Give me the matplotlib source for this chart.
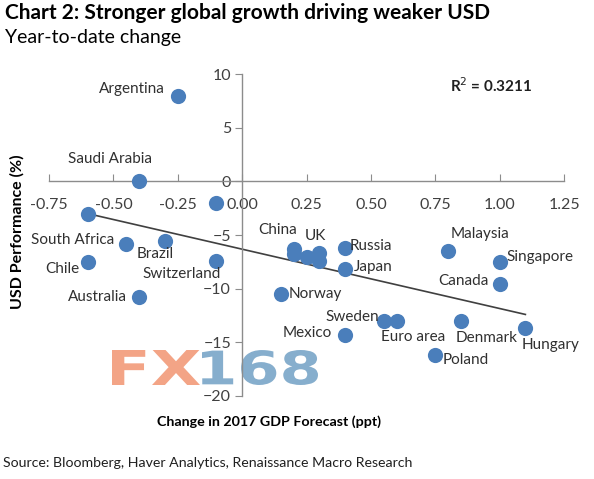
import matplotlib
matplotlib.use("Agg")
import matplotlib.pyplot as plt
from matplotlib.textpath import TextPath
from matplotlib.patches import PathPatch
from matplotlib.font_manager import FontProperties
from matplotlib.transforms import Affine2D

plt.rcParams['font.family'] = ['Lato', 'DejaVu Sans']

# data (GDP forecast change, USD performance)
countries = ["Argentina", "Saudi Arabia", "", "", "South Africa", "Brazil", "Chile",
             "Switzerland", "Australia", "Norway", "China", "", "", "UK", "",
             "Russia", "Japan", "Malaysia", "Singapore", "Canada", "Sweden",
             "Euro area", "Mexico", "Denmark", "Poland", "Hungary"]
gdp_change = [-0.25, -0.40, -0.10, -0.60, -0.45, -0.30, -0.60,
              -0.10, -0.40, 0.15, 0.20, 0.20, 0.25, 0.30, 0.30,
              0.40, 0.40, 0.80, 1.00, 1.00, 0.55,
              0.60, 0.40, 0.85, 0.75, 1.10]
usd_perf = [8.0, 0.0, -2.0, -3.0, -5.8, -5.6, -7.5,
            -7.4, -10.8, -10.5, -6.3, -6.8, -7.0, -6.7, -7.4,
            -6.2, -8.2, -6.5, -7.5, -9.6, -13.0,
            -13.0, -14.3, -13.0, -16.2, -13.7]
trend_x = [-0.60, 1.10]
trend_y = [-3.0, -12.4]
x_ticks = [-0.75, -0.50, -0.25, 0.00, 0.25, 0.50, 0.75, 1.00, 1.25]
y_ticks = [-20, -15, -10, -5, 0, 5, 10]

# label placement: (dx, dy) in pixels, horizontal alignment
label_pos = {
    "Argentina": (-13, 7, 'right'),
    "Saudi Arabia": (-29, 22, 'center'),
    "South Africa": (-12, 4, 'right'),
    "Brazil": (-10, -13, 'center'),
    "Chile": (-8, -7, 'right'),
    "Switzerland": (-35, -13, 'center'),
    "Australia": (-12, 0, 'right'),
    "Norway": (8, 0, 'left'),
    "China": (-16, 19, 'center'),
    "UK": (-4, 17, 'center'),
    "Russia": (4, 2, 'left'),
    "Japan": (9, 2, 'left'),
    "Malaysia": (32, 17, 'center'),
    "Singapore": (7, 5, 'left'),
    "Canada": (-11, 3, 'right'),
    "Mexico": (-13, 2, 'right'),
    "Sweden": (-5, 4, 'right'),
    "Euro area": (16, -16, 'center'),
    "Denmark": (26, -17, 'center'),
    "Hungary": (25, -17, 'center'),
    "Poland": (7, -5, 'left'),
}

W, H = 594, 479
fig = plt.figure(figsize=(W / 100, H / 100), dpi=100)
ax = fig.add_axes([0.0825, 0.1733, 0.867, 0.672])


def watermark(text, left, right, top, bottom, color):
    # stretch a bold text outline into a box given in pixels from the top-left
    path = TextPath((0, 0), text, size=50, prop=FontProperties(family='DejaVu Sans', weight='bold'))
    ext = path.get_extents()
    sx = (right - left) / ext.width
    sy = (bottom - top) / ext.height
    tr = (Affine2D().translate(-ext.x0, -ext.y0).scale(sx, sy)
          .translate(left, H - bottom).scale(1 / 100.0) + fig.dpi_scale_trans)
    fig.add_artist(PathPatch(path, transform=tr, facecolor=color, edgecolor='none', zorder=0))


watermark("FX", 112, 200, 350, 385, '#F3A486')
watermark("168", 202, 318, 350, 385, '#86AECD')

ax.set_xlim(-0.75, 1.25)
ax.set_ylim(-20, 10)
ax.patch.set_alpha(0)

for s in ['top', 'right']:
    ax.spines[s].set_visible(False)
ax.spines['left'].set_position(('data', 0))
ax.spines['bottom'].set_position(('data', 0))
for s in ['left', 'bottom']:
    ax.spines[s].set_color('#8C8C8C')
    ax.spines[s].set_linewidth(1.0)

ax.set_xticks(x_ticks)
ax.set_xticklabels(["%.2f" % v for v in x_ticks])
ax.set_yticks(y_ticks)
ax.tick_params(axis='x', direction='in', length=5, color='#8C8C8C', pad=12,
               labelsize=11.5, labelcolor='#404040')
ax.tick_params(axis='y', direction='out', length=5, color='#8C8C8C', pad=3,
               labelsize=11.5, labelcolor='#404040')

ax.plot(trend_x, trend_y, color='#404040', linewidth=1.2, zorder=2)
ax.scatter(gdp_change, usd_perf, s=120, color='#4A7EBB', zorder=3, linewidths=0)

for name, xv, yv in zip(countries, gdp_change, usd_perf):
    if name == "":
        continue
    dx, dy, ha = label_pos[name]
    ax.annotate(name, (xv, yv), xytext=(dx, dy), textcoords='offset pixels',
                ha=ha, va='center', fontsize=11, color='#303030', zorder=4)

ax.text(0.858, 0.965, "R$^2$ = 0.3211", transform=ax.transAxes, fontsize=11,
        fontweight='bold', ha='center', va='center', color='#202020')

fig.text(5 / W, 1 - 13 / H, "Chart 2: Stronger global growth driving weaker USD",
         fontsize=15, fontweight='bold', ha='left', va='center')
fig.text(5 / W, 1 - 38 / H, "Year-to-date change", fontsize=14,
         ha='left', va='center')
fig.text(17 / W, 1 - 232 / H, "USD Performance (%)", fontsize=11.5, fontweight='bold',
         rotation=90, ha='center', va='center')
fig.text(269 / W, 1 - 422 / H, "Change in 2017 GDP Forecast (ppt)", fontsize=10.3,
         fontweight='bold', ha='center', va='center')
fig.text(3 / W, 1 - 463 / H,
         "Source: Bloomberg, Haver Analytics, Renaissance Macro Research",
         fontsize=10.2, ha='left', va='center', color='#202020')

fig.savefig("out.png", dpi=100)
